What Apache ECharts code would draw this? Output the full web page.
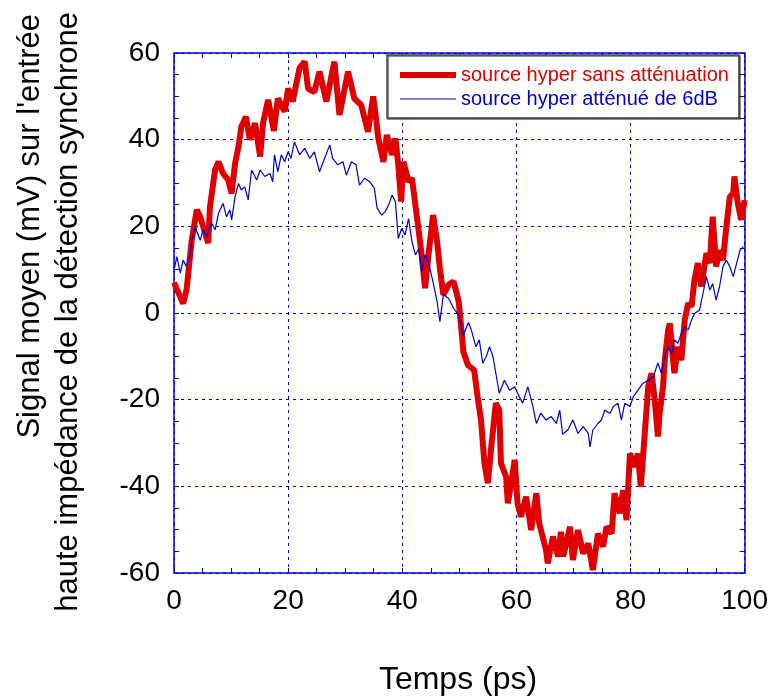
<!DOCTYPE html>
<html>
<head>
<meta charset="utf-8">
<title>Signal moyen</title>
<script src="https://cdn.jsdelivr.net/npm/echarts@6/dist/echarts.min.js"></script>
<style>
    html, body { margin: 0; padding: 0; background: #fff; }
    #chart { width: 771px; height: 696px; }
</style>
</head>
<body>
<div id="chart"></div>
<script>
// Valeurs (temps en ps, signal en mV)
const xTicks = [0, 20, 40, 60, 80, 100];
const yTicks = [-60, -40, -20, 0, 20, 40, 60];

const seriesNames = ['source hyper sans atténuation', 'source hyper atténué de 6dB'];

// source hyper sans atténuation
const redTime = [0, 1.6, 2.2, 3.1, 4.0, 4.6, 5.1, 6.0, 6.3, 7.2, 7.8, 8.6, 9.5, 10.1, 10.7, 11.3, 11.8, 12.6, 13.3, 14.2,
    15.1, 15.6, 16.5, 17.5, 18.2, 19.4, 20.0, 20.8, 22.0, 22.9, 23.5, 24.6, 25.5, 26.7, 28.1, 29.0, 30.5, 31.6, 32.8, 34.0,
    34.9, 35.4, 35.8, 36.7, 37.3, 38.2, 38.8, 39.3, 39.8, 40.2, 41.1, 41.7, 42.3, 42.9, 43.4, 44.0, 44.6, 45.4, 46.1, 46.6,
    47.2, 48.1, 49.0, 49.9, 50.4, 50.7, 51.5, 52.6, 53.2, 53.8, 54.4, 55.0, 55.6, 56.4, 57.0, 57.3, 58.2, 58.5, 59.1, 59.7,
    60.2, 60.8, 61.7, 62.6, 63.5, 64.0, 65.2, 65.5, 66.4, 67.3, 67.8, 68.2, 69.4, 69.9, 70.8, 71.7, 72.6, 73.4, 74.3, 75.2,
    75.8, 76.7, 77.2, 78.1, 78.7, 79.3, 79.9, 80.7, 81.3, 81.8, 82.5, 83.1, 83.7, 84.3, 84.8, 85.1, 85.7, 86.0, 86.6, 86.9,
    87.4, 87.7, 88.3, 88.9, 89.5, 90.1, 90.7, 91.2, 91.8, 92.4, 93.3, 93.9, 94.4, 95.0, 95.6, 96.2, 96.8, 97.4, 98.0, 98.2,
    98.8, 99.4, 100];
const redSignal = [7, 2.2, 5.3, 16.8, 23.8, 22.2, 20, 16.1, 24.5, 33, 34.9, 32.2, 30.7, 27.6, 34.5, 38.4, 43, 45.3, 40, 43.8,
    36.1, 43.8, 49.2, 42, 49.5, 46.5, 51.8, 48.8, 56.5, 58, 51.8, 51, 55.7, 48.8, 58, 45.7, 55.7, 49.5, 48, 41.8,
    50, 45, 40.3, 34.9, 41.1, 36.5, 40.3, 34.2, 25.7, 34.9, 30.3, 31.1, 24.9, 18.8, 13.4, 5.7, 13.4, 22.6, 16.5, 10.3,
    4.2, 6.5, 7.3, 2.6, -4.3, -8.9, -12, -13.2, -19.3, -24.7, -34.7, -39.3, -30.9, -20.8, -22.4, -34.7, -37.8, -43.9, -39.3, -33.9,
    -43.9, -47, -42.4, -50.1, -41.6, -48.5, -54.7, -57.8, -51.6, -56.2, -50.5, -56.2, -49.3, -57, -50.1, -55.5, -53.2, -59.3, -50.9, -53.9,
    -49.3, -50.9, -41.6, -46.2, -40.9, -47.8, -32.4, -35.5, -32.4, -40.1, -27.8, -17, -13.9, -20.8, -28.5, -23.2, -17, -10.9, -3.9, -2.4,
    -10.1, -13.9, -7.8, -10.9, -1.6, 2.2, 1.5, 7.6, 11.5, 6.1, 13.8, 11.5, 22.2, 10.7, 14.5, 12.2, 19.9, 26.8, 27.6, 31.5,
    25.3, 21.5, 26];

// source hyper atténué de 6dB
const blueTime = [0, 0.5, 1.1, 1.6, 2.2, 2.8, 3.1, 3.7, 4.6, 5.1, 5.7, 6.6, 7.2, 7.8, 8.6, 9.2, 9.8, 10.1, 10.7, 11.3,
    11.8, 12.4, 13.0, 13.6, 14.5, 15.1, 15.9, 16.8, 17.3, 17.6, 18.2, 18.8, 19.4, 20.0, 20.5, 21.1, 22.0, 22.9, 23.8, 24.6,
    25.5, 26.4, 27.3, 27.8, 28.7, 29.6, 30.2, 31.1, 31.9, 32.5, 33.4, 34.3, 35.1, 35.6, 36.4, 37.0, 37.6, 38.2, 38.8, 39.3,
    39.9, 40.5, 41.1, 41.7, 42.3, 42.9, 43.4, 44.0, 44.6, 45.5, 46.1, 46.6, 47.2, 48.1, 49.0, 49.9, 50.7, 51.6, 52.1, 52.9,
    53.5, 54.1, 54.7, 55.3, 55.9, 56.4, 57.0, 57.9, 58.8, 59.7, 60.5, 61.1, 62.0, 62.9, 63.5, 64.3, 65.2, 66.1, 67.0, 67.6,
    68.1, 69.0, 69.9, 70.8, 71.7, 72.6, 72.9, 73.4, 74.3, 74.9, 75.5, 76.4, 77.0, 77.8, 78.4, 79.0, 79.9, 80.5, 81.3, 82.2,
    83.1, 84.0, 84.8, 85.4, 86.0, 86.6, 87.2, 87.7, 88.3, 88.9, 89.5, 90.1, 90.7, 91.2, 92.1, 92.7, 93.3, 93.9, 94.4, 95.0,
    95.6, 96.2, 96.8, 97.4, 98.0, 98.6, 99.2, 99.8];
const blueSignal = [9.9, 13, 9.2, 12.2, 10.7, 13, 16.8, 19.9, 16.8, 19.2, 17.6, 20.7, 19.2, 23, 25.3, 22.2, 23.8, 21.5, 26.8, 29.9,
    28.4, 29.1, 26.1, 33, 30.7, 33, 31.5, 32.2, 30.3, 36.5, 32.6, 36.5, 34.9, 37.2, 35.7, 39.5, 36.5, 38, 35.7, 37.2,
    32.6, 35.7, 38.8, 35.7, 34.2, 34.9, 31.8, 34.9, 34.2, 29.5, 31.1, 30.3, 28.8, 24.2, 22.6, 23.4, 24.9, 27.2, 25.7, 17.2,
    19.5, 18, 21.8, 16.5, 13.4, 14.9, 9.5, 13.4, 11.8, 6.5, 2.6, -2, 4.2, 3.4, 1.1, -0.5, -5.1, -2.2, -3.9, -7.8,
    -6.2, -11.6, -10.1, -7.8, -10.1, -13.9, -18.5, -15.5, -17.8, -17, -19.3, -20.8, -17, -21.6, -25.5, -23.1, -24.7, -23.9, -25.5, -22.4,
    -28, -27, -24.7, -27.8, -26.2, -27.8, -30.9, -27, -25.5, -24.7, -22.4, -23.2, -21.6, -20.8, -24.7, -20.8, -21.6, -19.3, -17.8, -16.2,
    -15.5, -14.7, -11.5, -13.9, -10.1, -7.8, -9.3, -6.2, -7, -4.7, -3.2, -3.9, -1.6, -0.1, 0.7, 4.5, 8.4, 5.3, 6.8, 3,
    6.1, 10.7, 12.2, 10.7, 8.4, 11.5, 14.5, 15.3];

const FONT = 'Liberation Sans, Arial, sans-serif';
const AXIS_BLUE = '#0000d8';
const RED = '#e00000';
const BLUE = '#0000d0';

// Associer temps et signal
function pairs(times, values) {
    return times.map(function (t, i) { return [t, values[i]]; });
}

// Axe miroir (haut / droite) sans étiquettes
function mirrorAxis(pos, ticks) {
    return {
        type: 'value',
        position: pos,
        min: ticks[0],
        max: ticks[ticks.length - 1],
        interval: 20,
        axisLine: { show: true, onZero: false, lineStyle: { color: AXIS_BLUE, width: 1.5 } },
        axisTick: { show: true, inside: true, length: 5, lineStyle: { color: AXIS_BLUE } },
        minorTick: { show: true, splitNumber: 4, length: 5, lineStyle: { color: AXIS_BLUE } },
        axisLabel: { show: false },
        splitLine: { show: false }
    };
}

function mainAxis(pos, ticks) {
    return {
        type: 'value',
        position: pos,
        min: ticks[0],
        max: ticks[ticks.length - 1],
        interval: 20,
        axisLine: { show: true, onZero: false, lineStyle: { color: AXIS_BLUE, width: 1.5 } },
        axisTick: { show: true, inside: true, length: 5, lineStyle: { color: AXIS_BLUE } },
        minorTick: { show: true, splitNumber: 4, length: 5, lineStyle: { color: AXIS_BLUE } },
        axisLabel: { color: '#000', fontSize: 28, fontFamily: FONT, margin: 14 },
        splitLine: { show: true, lineStyle: { color: AXIS_BLUE, width: 1, type: [3, 4] } }
    };
}

const chartDom = document.getElementById('chart');
const myChart = echarts.init(chartDom);

const option = {
    backgroundColor: '#fff',
    animation: false,
    grid: { left: 174, right: 26, top: 53, bottom: 123, containLabel: false },
    xAxis: [mainAxis('bottom', xTicks), mirrorAxis('top', xTicks)],
    yAxis: [mainAxis('left', yTicks), mirrorAxis('right', yTicks)],
    legend: {
        orient: 'vertical',
        left: 387,
        top: 55,
        padding: [10, 10, 9, 10],
        itemWidth: 56,
        itemHeight: 20,
        itemGap: 4,
        backgroundColor: '#fff',
        borderColor: '#444',
        borderWidth: 1.5,
        borderRadius: 0,
        shadowColor: 'rgba(0,0,0,0.6)',
        shadowOffsetX: 1,
        shadowOffsetY: 1,
        // pas de symbole, seulement le trait
        itemStyle: { color: 'rgba(0,0,0,0)', borderColor: 'rgba(0,0,0,0)', borderWidth: 0 },
        textStyle: { fontSize: 20, fontFamily: FONT },
        data: [
            { name: seriesNames[0], textStyle: { color: RED }, lineStyle: { color: RED, width: 6 } },
            { name: seriesNames[1], textStyle: { color: BLUE }, lineStyle: { color: BLUE, width: 1 } }
        ]
    },
    graphic: [
        {
            type: 'text',
            x: 458,
            y: 680,
            style: {
                text: 'Temps (ps)',
                fontSize: 32,
                fontFamily: FONT,
                fill: '#000',
                textAlign: 'center',
                textVerticalAlign: 'middle'
            }
        },
        {
            type: 'text',
            x: 30,
            y: 14,
            rotation: Math.PI / 2,
            style: {
                text: "Signal moyen (mV) sur l'entrée",
                fontSize: 31,
                fontFamily: FONT,
                fill: '#000',
                textAlign: 'right',
                textVerticalAlign: 'middle'
            }
        },
        {
            type: 'text',
            x: 68,
            y: 12,
            rotation: Math.PI / 2,
            style: {
                text: 'haute impédance de la détection synchrone',
                fontSize: 31,
                fontFamily: FONT,
                fill: '#000',
                textAlign: 'right',
                textVerticalAlign: 'middle'
            }
        }
    ],
    series: [
        {
            name: seriesNames[0],
            type: 'line',
            xAxisIndex: 0,
            yAxisIndex: 0,
            symbol: 'none',
            data: pairs(redTime, redSignal),
            lineStyle: { color: RED, width: 6 },
            itemStyle: { color: RED },
            z: 3
        },
        {
            name: seriesNames[1],
            type: 'line',
            xAxisIndex: 0,
            yAxisIndex: 0,
            symbol: 'none',
            data: pairs(blueTime, blueSignal),
            lineStyle: { color: BLUE, width: 1.2 },
            itemStyle: { color: BLUE },
            z: 4
        }
    ]
};

myChart.setOption(option);

window.addEventListener('resize', function () {
    myChart.resize();
});
</script>
</body>
</html>
